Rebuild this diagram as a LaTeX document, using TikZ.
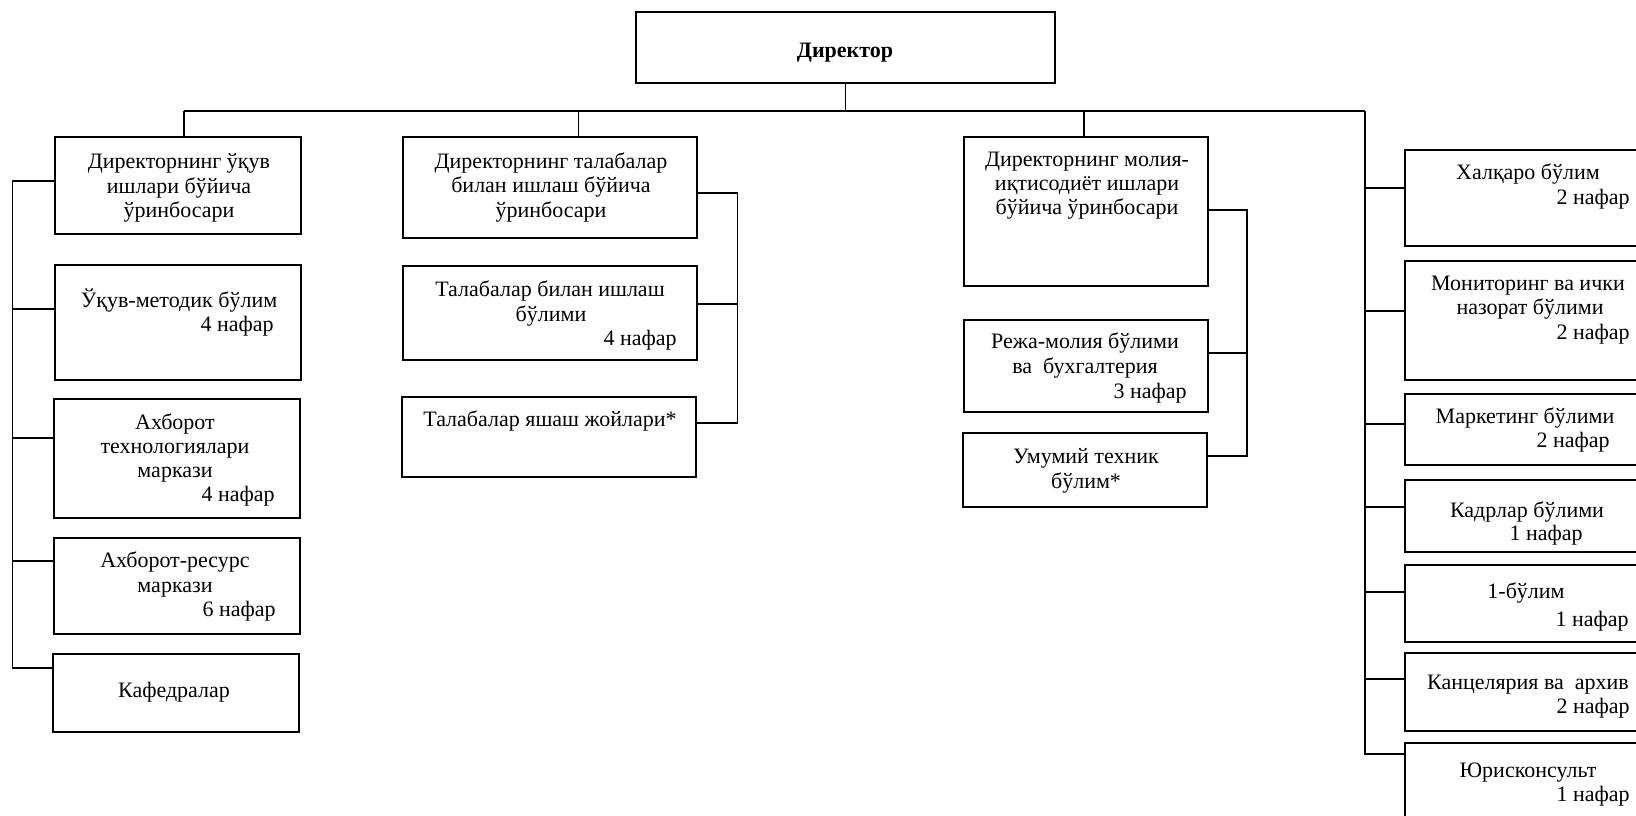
\documentclass[tikz,border=0pt]{standalone}
\usepackage{fontspec}
\setmainfont{Liberation Serif}
\newcommand\orgbox[5]{\node[bx, minimum width={(#4-#2)*0.5pt}, minimum height={(#5-#3)*0.5pt}] (#1) at ({(#2+#4)/2},{(#3+#5)/2}) {};}
\begin{document}
\begin{tikzpicture}[x=0.5pt,y=-0.5pt,
  bx/.style={draw, line width=1pt, rectangle, inner sep=0pt},
  ln/.style={line width=0.8pt},
  tx/.style={inner sep=0pt, font=\fontsize{11}{12.4}\selectfont},
  txc/.style={tx, anchor=base},
  txr/.style={tx, anchor=base east}]
\useasboundingbox (0,0) rectangle (1636,815);
\clip (0,0) rectangle (1636,815);

% boxes
\orgbox{dir}{636}{12}{1055}{83}
\orgbox{b1}{55}{137}{301}{234}
\orgbox{b2}{55}{265}{301}{380}
\orgbox{b3}{54}{399}{300}{518}
\orgbox{b4}{54}{538}{300}{634}
\orgbox{b5}{53}{654}{299}{732}
\orgbox{m1}{403}{137}{697}{238}
\orgbox{m2}{403}{266}{697}{360}
\orgbox{m3}{402}{397}{696}{477}
\orgbox{r1}{964}{137}{1208}{286}
\orgbox{r2}{964}{320}{1208}{412}
\orgbox{r3}{963}{433}{1207}{507}
\orgbox{q1}{1405}{150}{1660}{246}
\orgbox{q2}{1405}{261}{1660}{380}
\orgbox{q3}{1405}{394}{1660}{465}
\orgbox{q4}{1405}{480}{1660}{552}
\orgbox{q5}{1405}{565}{1660}{642}
\orgbox{q6}{1405}{653}{1660}{731}
\orgbox{q7}{1405}{743}{1660}{840}

% texts
\node[txc, font=\fontsize{11}{12.4}\selectfont\bfseries] (dirt) at (845,57) {Директор};

\node[txc] (b1a) at (179,168) {Директорнинг ўқув};
\node[txc] (b1b) at (179,193) {ишлари бўйича};
\node[txc] (b1c) at (179,217) {ўринбосари};

\node[txc] (b2a) at (179,307) {Ўқув-методик бўлим};
\node[txr] (b2b) at (274,331) {4 нафар};

\node[txc] (b3a) at (175,429) {Ахборот};
\node[txc] (b3b) at (175,453) {технологиялари};
\node[txc] (b3c) at (175,477) {маркази};
\node[txr] (b3d) at (275,501) {4 нафар};

\node[txc] (b4a) at (175,567) {Ахборот-ресурс};
\node[txc] (b4b) at (175,592) {маркази};
\node[txr] (b4c) at (276,616) {6 нафар};

\node[txc] (b5a) at (174,697) {Кафедралар};

\node[txc] (m1a) at (551,168) {Директорнинг талабалар};
\node[txc] (m1b) at (551,192) {билан ишлаш бўйича};
\node[txc] (m1c) at (551,217) {ўринбосари};

\node[txc] (m2a) at (550,296) {Талабалар билан ишлаш};
\node[txc] (m2b) at (551,321) {бўлими};
\node[txr] (m2c) at (677,345) {4 нафар};

\node[txc] (m3a) at (550,426) {Талабалар яшаш жойлари*};

\node[txc] (r1a) at (1087,166) {Директорнинг молия-};
\node[txc] (r1b) at (1087,190) {иқтисодиёт ишлари};
\node[txc] (r1c) at (1087,214) {бўйича ўринбосари};

\node[txc] (r2a) at (1085,348) {Режа-молия бўлими};
\node[txc] (r2b) at (1085,373) {ва~~бухгалтерия};
\node[txr] (r2c) at (1187,398) {3 нафар};

\node[txc] (r3a) at (1086,463) {Умумий техник};
\node[txc] (r3b) at (1086,488) {бўлим*};

\node[txc] (q1a) at (1528,179) {Халқаро бўлим};
\node[txr] (q1b) at (1630,204) {2 нафар};

\node[txc] (q2a) at (1528,290) {Мониторинг ва ички};
\node[txc] (q2b) at (1530,314) {назорат бўлими};
\node[txr] (q2c) at (1630,339) {2 нафар};

\node[txc] (q3a) at (1525,423) {Маркетинг бўлими};
\node[txr] (q3b) at (1610,447) {2 нафар};

\node[txc] (q4a) at (1527,517) {Кадрлар бўлими};
\node[txr] (q4b) at (1583,540) {1 нафар};

\node[txc] (q5a) at (1526,598) {1-бўлим};
\node[txr] (q5b) at (1629,626) {1 нафар};

\node[txc] (q6a) at (1528,689) {Канцелярия ва~~архив};
\node[txr] (q6b) at (1630,713) {2 нафар};

\node[txc] (q7a) at (1528,777) {Юрисконсульт};
\node[txr] (q7b) at (1630,801) {1 нафар};

% connector coordinates
\coordinate (busL) at (184,111);
\coordinate (busR) at (1365,111);
\coordinate (d2) at (578.5,111);
\coordinate (d3) at (1084,111);
\coordinate (rtB) at (1365,754);

\coordinate (tb1) at (12.5,181);
\coordinate (tb2) at (12.5,309);
\coordinate (tb3) at (12.5,438);
\coordinate (tb4) at (12.5,561);
\coordinate (tb5) at (12.5,668);

\coordinate (tm1) at (737.5,193);
\coordinate (tm2) at (737.5,304);
\coordinate (tm3) at (737.5,423);

\coordinate (tr1) at (1247,210);
\coordinate (tr2) at (1247,353);
\coordinate (tr3) at (1247,456);

\coordinate (tq1) at (1365,188);
\coordinate (tq2) at (1365,311);
\coordinate (tq3) at (1365,424);
\coordinate (tq4) at (1365,507);
\coordinate (tq5) at (1365,592);
\coordinate (tq6) at (1365,679);

% connectors
\draw[ln] (dir.south) -- (dir.south |- busL);
\draw[ln] (busL) -- (busR);
\draw[ln] (busL) -- (b1.north -| busL);
\draw[ln] (d2) -- (m1.north -| d2);
\draw[ln] (d3) -- (r1.north -| d3);
\draw[ln] (busR) -- (rtB) -- (q7.west |- rtB);
\foreach \q/\t in {q1/tq1,q2/tq2,q3/tq3,q4/tq4,q5/tq5,q6/tq6}
  \draw[ln] (\t) -- (\q.west |- \t);

\draw[ln] (b1.west |- tb1) -- (tb1) -- (tb5) -- (b5.west |- tb5);
\foreach \b/\t in {b2/tb2,b3/tb3,b4/tb4}
  \draw[ln] (\t) -- (\b.west |- \t);

\draw[ln] (m1.east |- tm1) -- (tm1) -- (tm3) -- (m3.east |- tm3);
\draw[ln] (tm2) -- (m2.east |- tm2);

\draw[ln] (r1.east |- tr1) -- (tr1) -- (tr3) -- (r3.east |- tr3);
\draw[ln] (tr2) -- (r2.east |- tr2);
\end{tikzpicture}
\end{document}
